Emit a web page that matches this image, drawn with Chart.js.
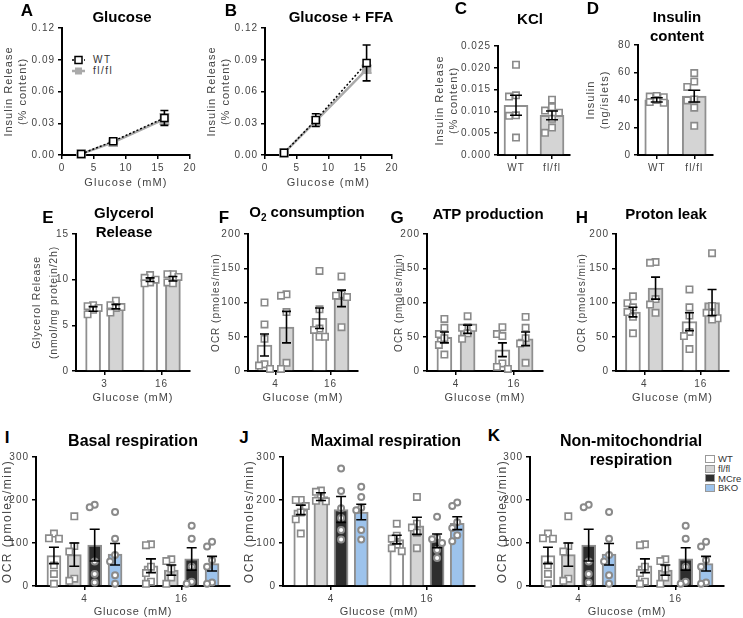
<!DOCTYPE html>
<html lang="en">
<head>
<meta charset="UTF-8">
<title>Insulin release, lipolysis and respiration</title>
<script src="https://cdn.jsdelivr.net/npm/chart.js"></script>
<style>
  body {
    margin: 0;
    width: 743px;
    height: 618px;
    overflow: hidden;
    position: relative;
    background: #fff;
    font-family: "Liberation Sans", Arial, sans-serif;
  }
  canvas { position: absolute; }
  .lbl {
    position: absolute;
    transform: translate(-50%, -50%);
    white-space: nowrap;
    text-align: center;
    color: #000;
    font-weight: bold;
  }
  .letter { font-size: 17px; }
  .title { font-size: 15px; line-height: 19px; }
  .big { font-size: 16px; }
  .key { position: absolute; font-size: 10px; color: #333; }
  .key div { display: flex; align-items: center; height: 11px; }
  .key svg { margin-right: 8px; }
  .legendK { position: absolute; left: 705px; top: 454px; font-size: 9.5px; color: #333; }
  .legendK div { display: flex; align-items: center; height: 9.7px; }
  .legendK span { display: inline-block; width: 10px; height: 8px; box-sizing: border-box; border: 1.5px solid #999; margin-right: 3px; }
</style>
</head>
<body>
<div class="key" style="left:72px;top:54px;letter-spacing:1.5px">
  <div><svg width="13" height="10"><line x1="0" y1="5" x2="13" y2="5" stroke="#000" stroke-width="1.5" stroke-dasharray="2 2"/><rect x="3" y="1.5" width="7" height="7" fill="#fff" stroke="#000" stroke-width="1.5"/></svg>WT</div>
  <div><svg width="13" height="10"><line x1="0" y1="5" x2="13" y2="5" stroke="#aaa" stroke-width="2.5"/><rect x="3" y="1.5" width="7" height="7" fill="#aaa"/></svg>fl/fl</div>
</div>
<div class="legendK">
  <div><span style="background:#fff"></span>WT</div>
  <div><span style="background:#d4d4d4"></span>fl/fl</div>
  <div><span style="background:#2e2e2e"></span>MCre</div>
  <div><span style="background:#9dc3ec"></span>BKO</div>
</div>
<script>
  // ---- values ----
  // A, B: insulin release vs glucose
  const curveGlucose = [3, 8, 16];
  const glucoseWT = [0.001, 0.013, 0.035];
  const glucoseWTSem = [0.0008, 0.0015, 0.007];
  const glucoseFl = [0.001, 0.012, 0.034];
  const glucoseFlSem = [0.0008, 0.001, 0.005];
  const ffaWT = [0.002, 0.033, 0.087];
  const ffaWTSem = [0.001, 0.006, 0.017];
  const ffaFl = [0.002, 0.032, 0.081];
  const ffaFlSem = [0.001, 0.004, 0.0035];

  // C, D: one bar per genotype (series order: WT, fl/fl)
  const genotypes = ['WT', 'fl/fl'];
  const kclMean = [[0.0114], [0.0091]];
  const kclSem = [[0.0023], [0.0010]];
  const kclPts = [[[0.0207, 0.0137, 0.0134, 0.0091, 0.0090, 0.0040]],
                  [[0.0127, 0.0110, 0.0102, 0.0097, 0.0083, 0.0063, 0.0051]]];
  const contentMean = [[40.1], [42.8]];
  const contentSem = [[1.5], [4.3]];
  const contentPts = [[[43, 42.5, 42, 40, 38.5, 38]],
                      [[59.6, 53.4, 49.5, 40.4, 39.7, 34.4, 21.2]]];

  // E-H: [series][glucose level]
  const glycerolGlucose = ['3', '16'];
  const glycerolMean = [[6.8, 10.0], [7.05, 10.1]];
  const glycerolSem = [[0.25, 0.2], [0.25, 0.25]];
  const glycerolPts = [[[7.2, 7.1, 6.9, 6.7, 6.2], [10.5, 10.2, 10.0, 9.8, 9.7, 9.6]],
                       [[7.7, 7.2, 7.0, 6.9, 6.4], [10.6, 10.6, 10.3, 10.0, 9.7, 9.6]]];

  const ocrGlucose = ['4', '16'];
  const o2Mean = [[38, 77], [64, 106]];
  const o2Sem = [[16, 15], [23, 12]];
  const o2Pts = [[[100, 68, 47, 10, 8, 3], [146, 90, 62, 60, 50, 50]],
                 [[112, 110, 86, 12, 3], [138, 112, 110, 108, 64]]];
  const atpMean = [[49, 31], [61, 47]];
  const atpSem = [[8, 10], [6, 10]];
  const atpPts = [[[76, 63, 54, 48, 38, 24], [64, 54, 51, 11, 6, 3]],
                  [[80, 64, 63, 63, 55, 47], [79, 63, 48, 40, 12]]];
  const leakMean = [[86, 72], [121, 100]];
  const leakSem = [[7, 13], [16, 19]];
  const leakPts = [[[109, 99, 93, 86, 79, 55], [119, 93, 81, 57, 51, 32]],
                   [[159, 158, 105, 97, 85], [172, 95, 85, 84, 77, 75]]];

  // I-K: series WT, fl/fl, MCre, BKO
  const basalMean = [[71, 47], [73, 37], [95, 63], [74, 52]];
  const basalSem = [[19, 16], [27, 12], [37, 26], [25, 17]];
  const basalPts = [
    [[122, 111, 110, 48, 28, 5], [97, 95, 45, 30, 10, 5]],
    [[162, 93, 80, 17, 12], [62, 58, 40, 20, 5]],
    [[189, 183, 57, 28, 8], [140, 110, 45, 10, 5]],
    [[172, 110, 72, 57, 25, 5], [103, 92, 60, 45, 8, 5]]
  ];
  const maxMean = [[177, 108], [208, 140], [178, 105], [172, 146]];
  const maxSem = [[11, 10], [9, 20], [30, 16], [18, 15]];
  const maxPts = [
    [[200, 200, 186, 171, 155, 122], [145, 117, 110, 96, 88, 81]],
    [[222, 219, 205, 198, 197], [207, 145, 136, 124, 88]],
    [[273, 221, 181, 158, 130, 108], [161, 113, 109, 100, 84, 65]],
    [[231, 207, 182, 176, 130, 108], [194, 186, 148, 135, 118, 104]]
  ];
  const nonMitoMean = [[71, 47], [73, 37], [95, 63], [74, 52]];
  const nonMitoSem = [[19, 16], [27, 12], [37, 26], [25, 17]];
  const nonMitoPts = [
    [[122, 111, 110, 48, 28, 5], [97, 95, 45, 30, 10, 5]],
    [[162, 93, 80, 17, 12], [62, 58, 40, 20, 5]],
    [[189, 183, 57, 28, 8], [140, 110, 45, 10, 5]],
    [[172, 110, 72, 57, 25, 5], [103, 92, 60, 45, 8, 5]]
  ];

  const seriesNames = ['WT', 'fl/fl', 'MCre', 'BKO'];
  const seriesFill = ['#ffffff', '#d4d4d4', '#2e2e2e', '#9dc3ec'];
  const seriesShape = ['rect', 'rect', 'circle', 'circle'];

  Chart.defaults.font.family = 'Liberation Sans';
  Chart.defaults.animation = false;
  Chart.defaults.events = [];
  Chart.defaults.plugins.legend.display = false;
  Chart.defaults.plugins.tooltip.enabled = false;

  // SEM whiskers, from each element's position and the y scale
  function drawErrors(chart, i) {
    const ds = chart.data.datasets[i];
    if (!ds.errors) return;
    const ctx = chart.ctx, ys = chart.scales.y, cap = ds.errorCap || 5;
    ctx.save();
    ctx.strokeStyle = ds.errorColor || '#000';
    ctx.lineWidth = 1.6;
    chart.getDatasetMeta(i).data.forEach((el, j) => {
      const v = ds.data[j].y, e = ds.errors[j];
      const y1 = ys.getPixelForValue(v + e), y2 = ys.getPixelForValue(v - e);
      ctx.beginPath();
      ctx.moveTo(el.x, y1); ctx.lineTo(el.x, y2);
      ctx.moveTo(el.x - cap, y1); ctx.lineTo(el.x + cap, y1);
      ctx.moveTo(el.x - cap, y2); ctx.lineTo(el.x + cap, y2);
      ctx.stroke();
    });
    ctx.restore();
  }
  Chart.register({
    id: 'errorBars',
    beforeDatasetDraw(chart, args, opts) { if (opts.below) drawErrors(chart, args.index); },
    afterDatasetsDraw(chart, args, opts) {
      if (!opts.below) chart.data.datasets.forEach((d, i) => drawErrors(chart, i));
    }
  });

  // GraphPad-style spaced lettering on tick labels and axis titles
  function spaceText(s, tickLS, titleLS) {
    if (s._spaced) return;
    s._spaced = true;
    [['drawLabels', tickLS], ['drawTitle', titleLS]].forEach(([name, ls]) => {
      const orig = s[name];
      s[name] = function (...a) {
        this.ctx.save();
        this.ctx.letterSpacing = ls + 'px';
        orig.apply(this, a);
        this.ctx.restore();
      };
    });
  }

  function place(p) {
    const left = p.L - p.yw, top = p.T - 8;
    const w = p.R - left + 12, h = p.B - top + p.xh;
    const c = document.createElement('canvas');
    c.width = w; c.height = h;
    c.style.left = left + 'px'; c.style.top = top + 'px';
    c.style.width = w + 'px'; c.style.height = h + 'px';
    document.body.appendChild(c);
    return c;
  }

  function axes(p) {
    const tickFont = { size: 10 };
    return {
      x: {
        type: 'linear', min: p.xMin, max: p.xMax, offset: false,
        afterBuildTicks: p.xTicks ? s => { s.ticks = p.xTicks.map(v => ({ value: v })); } : undefined,
        ticks: { stepSize: p.xStep, color: '#444', font: tickFont, padding: 3, maxRotation: 0, autoSkip: false,
                 callback: p.xLabels ? (v, i) => p.xLabels[i] : v => v },
        grid: { offset: false, drawOnChartArea: false, tickLength: 4, color: '#000', lineWidth: 1.5 },
        border: { color: '#000', width: 2 },
        title: { display: !!p.xTitle, text: p.xTitle || '', color: '#444', font: { size: 11 }, padding: 0 },
        afterFit: s => { s.height = p.xh; spaceText(s, 1, p.xLS || 1.2); }
      },
      y: {
        type: 'linear', min: 0, max: p.yMax,
        ticks: { stepSize: p.yStep, color: '#444', font: tickFont, padding: 3, callback: v => v.toFixed(p.dec || 0) },
        grid: { drawOnChartArea: false, tickLength: 4, color: '#000', lineWidth: 1.5 },
        border: { color: '#000', width: 2 },
        title: { display: true, text: p.yTitle, color: '#444',
                 font: { size: p.yTitleSize || 11, lineHeight: p.yTitleLH || 1.36 },
                 padding: { top: p.yTitlePad ?? 1, bottom: 0 } },
        afterFit: s => { s.width = p.yw; spaceText(s, 1, p.yLS || 1); }
      }
    };
  }

  const baseOptions = p => ({
    responsive: false,
    layout: { padding: { top: 8, right: 12, left: 0, bottom: 0 }, autoPadding: false },
    scales: axes(p)
  });

  const xy = (xs, ys) => ys.map((v, i) => ({ x: xs[i], y: v }));

  function linePanel(p) {
    const opts = baseOptions(p);
    opts.plugins = { errorBars: { below: true } };
    new Chart(place(p), {
      type: 'line',
      data: {
        datasets: [
          { label: 'fl/fl', data: xy(curveGlucose, p.fl), errors: p.flSem, errorColor: '#aaa',
            borderColor: '#aaa', borderWidth: 2.5, pointStyle: 'rect', pointRadius: 5,
            pointBackgroundColor: '#aaa', pointBorderColor: '#aaa', clip: false, order: 2 },
          { label: 'WT', data: xy(curveGlucose, p.wt), errors: p.wtSem, errorCap: 4,
            borderColor: '#000', borderWidth: 1.5, borderDash: [2, 2], pointStyle: 'rect', pointRadius: 5,
            pointBackgroundColor: '#fff', pointBorderColor: '#000', pointBorderWidth: 1.5, clip: false, order: 1 }
        ]
      },
      options: opts
    });
  }

  // spread tied points sideways (returns px offsets), like a scatter dot plot
  function swarm(vals, pxPerY, vStep, hStep) {
    const placed = [];
    const cands = [0, -1, 1, -0.5, 0.5];
    return vals.map(v => {
      const y = v * pxPerY;
      const hits = c => placed.filter(q => Math.abs(q.c - c) < 1 && Math.abs(q.y - y) < vStep).length;
      let best = cands[0];
      for (const c of cands) { if (hits(c) < hits(best)) best = c; if (hits(best) === 0) break; }
      placed.push({ c: best, y });
      return best * hStep;
    });
  }

  function barPanel(p) {
    const pxX = (p.R - p.L) / (p.xMax - p.xMin), pxY = (p.B - p.T) / p.yMax;
    const datasets = [];
    p.mean.forEach((m, s) => {
      datasets.push({
        type: 'bar', label: seriesNames[s],
        data: m.map((v, g) => ({ x: p.groups[g] + p.offsets[s], y: v })),
        errors: p.sem[s], errorCap: p.cap || 5,
        backgroundColor: seriesFill[s], borderColor: '#8f8f8f', borderWidth: 2,
        barThickness: p.barW, maxBarThickness: p.barW, grouped: false, order: 3
      });
      p.pts[s].forEach((vals, g) => {
        const dx = swarm(vals, pxY, 7, p.spread || 6);
        datasets.push({
          type: 'scatter', label: seriesNames[s] + ' points',
          data: vals.map((v, k) => ({ x: p.groups[g] + p.offsets[s] + dx[k] / pxX, y: v })),
          pointStyle: seriesShape[s], pointRadius: seriesShape[s] === 'rect' ? 4.5 : 3,
          pointBackgroundColor: '#fff', pointBorderColor: '#8a8a8a',
          pointBorderWidth: seriesShape[s] === 'rect' ? 1.6 : 2, clip: false, order: 2
        });
      });
    });
    new Chart(place(p), { type: 'bar', data: { datasets }, options: baseOptions(p) });
  }

  const insulinTitle = ['Insulin Release', '(% content)'];
  const ocrTitle = 'OCR (pmoles/min)';

  // ---- row 1 ----
  const curveAxes = { T: 27, B: 155, yw: 62, xh: 35, yMax: 0.12, yStep: 0.03, dec: 2, yTitle: insulinTitle,
                      xMin: 0, xMax: 20, xStep: 5, xTitle: 'Glucose (mM)' };
  linePanel({ ...curveAxes, L: 62, R: 190, wt: glucoseWT, wtSem: glucoseWTSem, fl: glucoseFl, flSem: glucoseFlSem });
  linePanel({ ...curveAxes, L: 265, R: 392, wt: ffaWT, wtSem: ffaWTSem, fl: ffaFl, flSem: ffaFlSem });

  const pairAxes = { B: 155, xh: 20, xMin: 0.5, xMax: 2.5, xTicks: [1, 2], xLabels: genotypes,
                     groups: [1], offsets: [0, 1], barW: 24, cap: 6, spread: 7 };
  barPanel({ ...pairAxes, L: 498, T: 45, R: 570, yw: 67, yMax: 0.025, yStep: 0.005, dec: 3,
             yTitle: insulinTitle, mean: kclMean, sem: kclSem, pts: kclPts });
  barPanel({ ...pairAxes, L: 638, T: 44, R: 713, yw: 56, yMax: 80, yStep: 20,
             yTitle: ['Insulin', '(ng/islets)'], mean: contentMean, sem: contentSem, pts: contentPts });

  // ---- row 2 ----
  const row2 = { T: 233, B: 371, xh: 34, xMin: 0.5, xMax: 2.5, xTicks: [1, 2], xTitle: 'Glucose (mM)', xLS: 1,
                 groups: [1, 2], offsets: [-0.2, 0.2], barW: 15, cap: 4.5, spread: 5.5,
                 yMax: 200, yStep: 50, yTitle: ocrTitle, yTitleSize: 10, yTitleLH: 1.2, xLabels: ocrGlucose };
  barPanel({ ...row2, L: 76, R: 190, yw: 48, yMax: 15, yStep: 5, xLabels: glycerolGlucose,
             yTitle: ['Glycerol Release', '(nmol/mg protein/2h)'], yTitleSize: 10.5, yTitleLH: 1.6, yLS: 0.8,
             mean: glycerolMean, sem: glycerolSem, pts: glycerolPts });
  barPanel({ ...row2, L: 248, R: 358, yw: 39, mean: o2Mean, sem: o2Sem, pts: o2Pts });
  barPanel({ ...row2, L: 427, R: 543, yw: 35, mean: atpMean, sem: atpSem, pts: atpPts });
  barPanel({ ...row2, L: 616, R: 729, yw: 41, mean: leakMean, sem: leakSem, pts: leakPts });

  // ---- row 3 ----
  const row3 = { T: 456, B: 586, xh: 33, xMin: 0.5, xMax: 2.5, xTicks: [1, 2], xLabels: ocrGlucose,
                 xTitle: 'Glucose (mM)', xLS: 0.8, groups: [1, 2], offsets: [-0.315, -0.105, 0.105, 0.315],
                 barW: 14, cap: 5, spread: 5, yMax: 300, yStep: 100, yTitle: ocrTitle, yTitleSize: 12,
                 yTitleLH: 1.2, yLS: 1.5 };
  barPanel({ ...row3, L: 36, R: 230, yw: 36, yTitlePad: 0, mean: basalMean, sem: basalSem, pts: basalPts });
  barPanel({ ...row3, L: 283, R: 475, yw: 42, mean: maxMean, sem: maxSem, pts: maxPts });
  barPanel({ ...row3, L: 530, R: 724, yw: 36, mean: nonMitoMean, sem: nonMitoSem, pts: nonMitoPts });

  // ---- panel letters and titles ----
  function label(html, x, y, cls) {
    const d = document.createElement('div');
    d.className = 'lbl ' + cls;
    d.innerHTML = html;
    d.style.left = x + 'px';
    d.style.top = y + 'px';
    document.body.appendChild(d);
  }
  [['A', 27, 11], ['B', 231, 11], ['C', 461, 9], ['D', 593, 9], ['E', 48, 218], ['F', 224, 218],
   ['G', 397, 218], ['H', 582, 218], ['I', 7, 438], ['J', 244, 438], ['K', 494, 436]]
    .forEach(([t, x, y]) => label(t, x, y, 'letter'));
  label('Glucose', 122, 16, 'title');
  label('Glucose + FFA', 341, 16, 'title');
  label('KCl', 530, 18, 'title');
  label('Insulin<br>content', 677, 26, 'title');
  label('Glycerol<br>Release', 124, 222, 'title');
  label('O<sub style="font-size:10px">2</sub> consumption', 307, 214, 'title');
  label('ATP production', 488, 213, 'title');
  label('Proton leak', 666, 213, 'title');
  label('Basal respiration', 133, 440, 'title big');
  label('Maximal respiration', 386, 440, 'title big');
  label('Non-mitochondrial<br>respiration', 631, 450, 'title big');
</script>
</body>
</html>
